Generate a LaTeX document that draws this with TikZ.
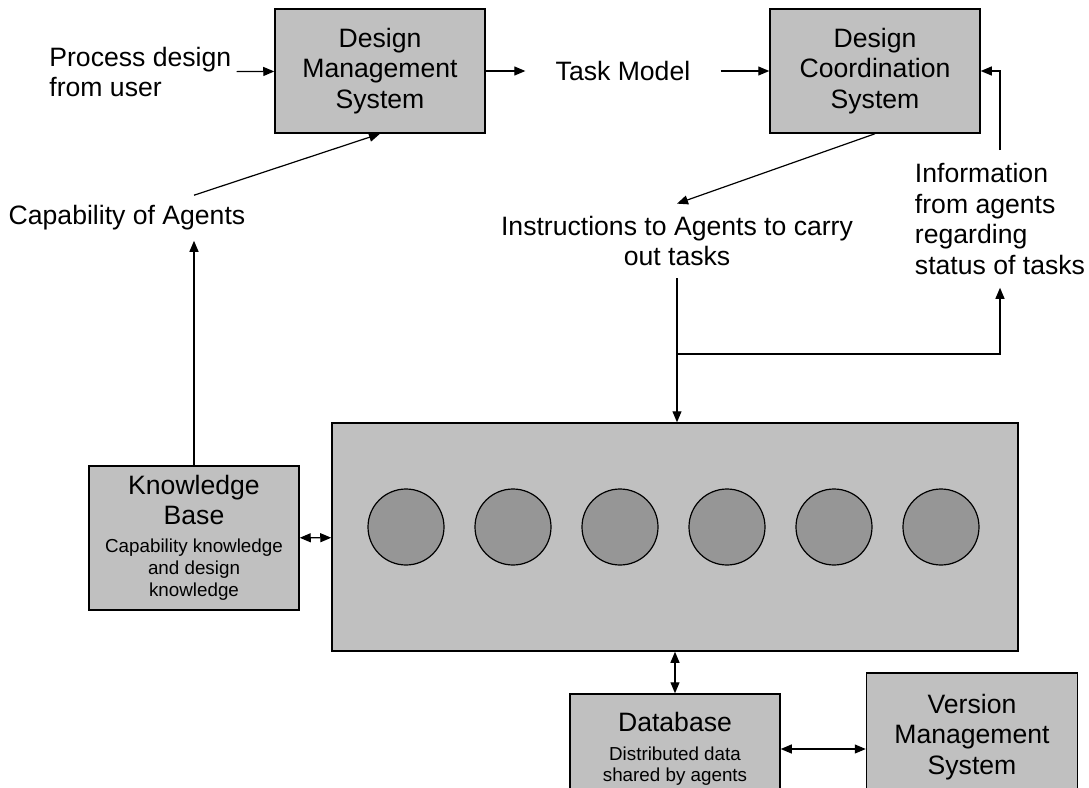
\documentclass[tikz,border=0pt]{standalone}
\usepackage{fontspec}
\setmainfont{Liberation Sans}
\usepackage{tikz}
\usetikzlibrary{arrows.meta}
\newcommand{\mainsize}{\fontsize{13.3}{15.2}\selectfont}
\newcommand{\notesize}{\fontsize{9.4}{11}\selectfont}
\definecolor{boxgrey}{HTML}{C0C0C0}
\definecolor{agentgrey}{HTML}{969696}

\begin{document}
\begin{tikzpicture}[x=0.5pt,y=-0.5pt,
		>={Triangle[length=5.5pt,width=4.5pt]},
		sys/.style={draw=black,line width=0.75pt,fill=boxgrey,inner sep=0pt,align=center,font=\mainsize,minimum width=105pt},
		txt/.style={font=\mainsize,inner sep=2.5pt},
		agent/.style={circle,draw=black,line width=0.6pt,fill=agentgrey,minimum size=38pt,inner sep=0pt}]
	\useasboundingbox (0,0) rectangle (1089,788);
	\clip (0,0) rectangle (1089,788);

	% systems
	\node[sys,minimum height=62pt] (dms) at (380,71) {Design\\Management\\System};
	\node[sys,minimum height=62pt] (dcs) at (875,71) {Design\\Coordination\\System};
	\node[sys,minimum height=72pt] (kb) at (194,538) {Knowledge\\Base\\[-1.5pt]{\notesize Capability knowledge}\\[-4pt]{\notesize and design}\\[-4pt]{\notesize knowledge}};
	\node[sys,minimum width=343pt,minimum height=114pt] (agents) at (675,537) {};
	\foreach \i in {1,...,6}
		\node[agent] (ag\i) at (299+107*\i,527) {};
	\node[sys,minimum height=55pt] (db) at (675,749) {Database\\[-1pt]{\notesize Distributed data}\\[-4.5pt]{\notesize shared by agents}};
	\node[sys,minimum width=105.5pt,minimum height=64pt] (vms) at (972,737) {Version\\Management\\System};

	% labels
	\node[txt,align=left,anchor=west] (proc) at (44,72) {Process design\\from user};
	\node[txt,inner xsep=15pt] (task) at (623,71) {Task Model};
	\node[txt,inner ysep=5pt] (cap) at (127,218) {Capability of Agents};
	\node[txt,align=center,inner sep=6pt] (instr) at (677,241) {Instructions to Agents to carry\\out tasks};
	\node[txt,align=left,inner sep=6.5pt] (info) at (1000,219) {Information\\from agents\\regarding\\status of tasks};
	\coordinate (split) at (677,354);

	\path[->,line width=0.6pt]
	(proc) edge (dms)
	(dms) edge (task)
	(task) edge (dcs)
	(dcs.south) edge (instr.north)
	(kb.north) edge (kb.north |- cap.south)
	(cap.north -| kb.north) edge (dms.south)
	(instr.south) edge (instr.south |- agents.north);
	\draw[->,line width=0.6pt] (info.north) |- (dcs.east);
	\draw[->,line width=0.6pt] (split) -| (info.south);
	\path[<->,line width=0.6pt]
	(kb) edge (agents)
	(agents) edge (db)
	(db.east) edge (db.east -| vms.west);
\end{tikzpicture}
\end{document}
